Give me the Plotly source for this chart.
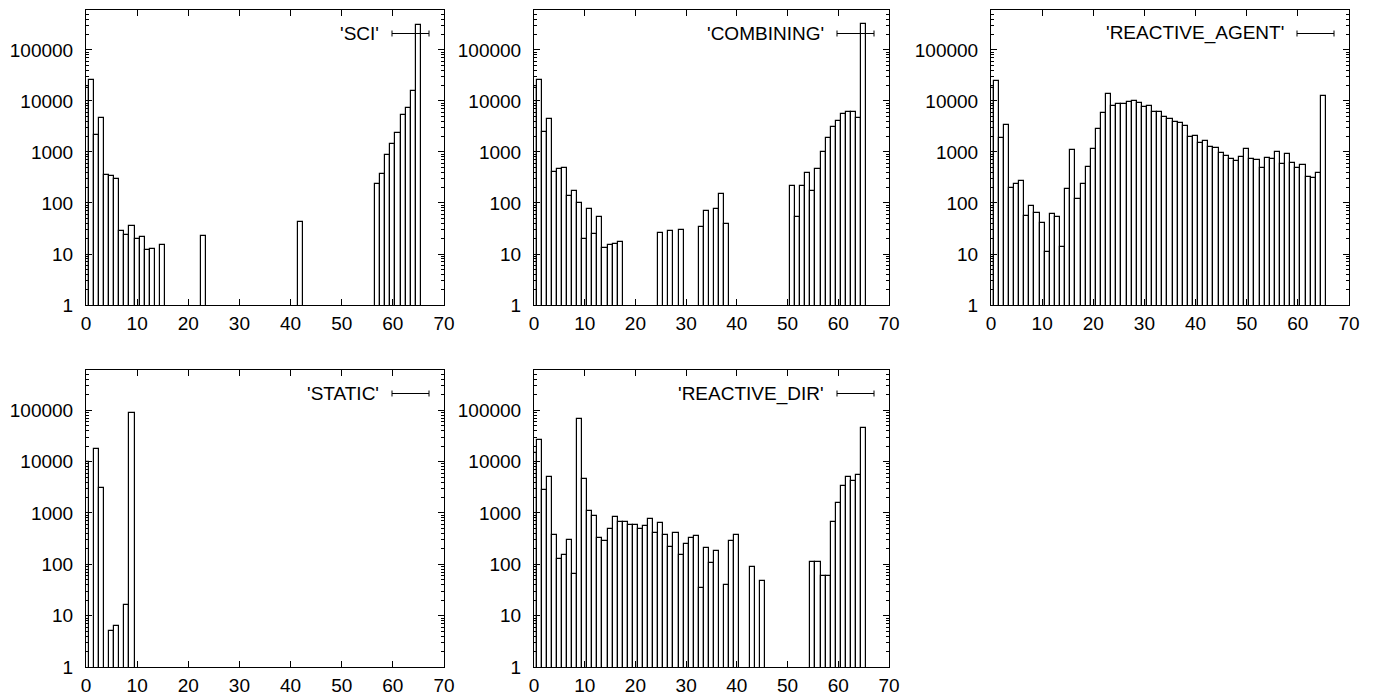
import plotly.graph_objects as go

# ---------------- data (bin index 0..65) ----------------
bins = list(range(66))

sci = [18000, 25700, 2200, 4570, 348, 335, 290, 28, 23.5, 35.5,
       19.5, 21.8, 11.8, 12.8, 0, 14.8, 0, 0, 0, 0,
       0, 0, 0, 23, 0, 0, 0, 0, 0, 0,
       0, 0, 0, 0, 0, 0, 0, 0, 0, 0,
       0, 0, 43, 0, 0, 0, 0, 0, 0, 0,
       0, 0, 0, 0, 0, 0, 0, 236, 365, 860,
       1440, 2330, 5300, 7200, 15700, 316000]

combining = [18000, 25700, 2440, 4400, 405, 457, 487, 138, 174, 102,
             20, 78, 24.5, 52, 13, 15, 16, 17, 0, 0,
             0, 0, 0, 0, 0, 26, 0, 28, 0, 30,
             0, 0, 0, 34, 71, 0, 75, 152, 39, 0,
             0, 0, 0, 0, 0, 0, 0, 0, 0, 0,
             0, 212, 53, 220, 395, 172, 465, 1000, 1880, 3100,
             4100, 5600, 6000, 6200, 4600, 320000]

reactive_agent = [18000, 24700, 1850, 3400, 200, 240, 270, 56, 89, 65,
                  40, 11, 60, 52, 14, 185, 1090, 120, 235, 515,
                  1130, 2820, 5900, 13900, 7900, 8900, 8900, 9400, 10100, 9100,
                  7600, 7900, 6200, 6200, 4900, 4500, 3870, 3640, 3230, 1990,
                  2040, 1480, 1650, 1250, 1200, 940, 850, 730, 665, 810,
                  1130, 720, 700, 480, 780, 730, 980, 580, 930, 620,
                  490, 560, 318, 315, 390, 12600]

static = [10000, 0, 17500, 3100, 0, 5, 6.2, 0, 16, 89000] + [0] * 56

reactive_dir = [15000, 25900, 2740, 5000, 370, 128, 150, 303, 64, 69000,
                4600, 1100, 890, 323, 287, 477, 840, 675, 675, 590,
                590, 477, 565, 770, 400, 625, 370, 222, 400, 150,
                246, 323, 360, 34, 207, 107, 185, 0, 39, 285,
                370, 0, 0, 88, 0, 47, 0, 0, 0, 0,
                0, 0, 0, 0, 0, 113, 113, 58, 58, 660,
                1570, 3300, 5100, 4270, 5450, 44500]

series_names = ["'SCI'", "'COMBINING'", "'REACTIVE_AGENT'", "'STATIC'", "'REACTIVE_DIR'"]
series_values = [sci, combining, reactive_agent, static, reactive_dir]

x_ticks = [0, 10, 20, 30, 40, 50, 60, 70]
x_ticklabels = ["0", "10", "20", "30", "40", "50", "60", "70"]
y_ticks = [1, 10, 100, 1000, 10000, 100000]
y_ticklabels = ["1", "10", "100", "1000", "10000", "100000"]
y_minor = [m * 10 ** d for d in range(6) for m in range(2, 10)]

# ---------------- layout geometry ----------------
OFF = 8                      # page body margin of the html file
W, H = 1374 - OFF, 696 - OFF
col_px = [(86, 444), (534, 889), (991, 1349)]   # screen pixels
row_px = [(10, 305), (370, 667)]
ml = col_px[0][0] - OFF
mr = W - (col_px[2][1] - OFF)
mt = row_px[0][0] - OFF
mb = H - (row_px[1][1] - OFF)
pw, ph = W - ml - mr, H - mt - mb

def xdom(a, b):
    return [(a - OFF - ml) / pw, (b - OFF - ml) / pw]

def ydom(top, bottom):
    return [(H - mb - (bottom - OFF)) / ph, (H - mb - (top - OFF)) / ph]

cells = [(0, 0), (0, 1), (0, 2), (1, 0), (1, 1)]

FONT = "Liberation Sans, Arial, Helvetica, sans-serif"
fig = go.Figure()
layout = dict(
    width=W, height=H,
    margin=dict(l=ml, r=mr, t=mt, b=mb, pad=0, autoexpand=False),
    paper_bgcolor="white", plot_bgcolor="white",
    showlegend=False, bargap=0,
    font=dict(family=FONT, size=19, color="black"),
)
annotations = []
shapes = []

for i, ((r, c), name, vals) in enumerate(zip(cells, series_names, series_values)):
    k = "" if i == 0 else str(i + 1)
    xa, ya = "x" + k, "y" + k
    fig.add_trace(go.Bar(
        x=bins, y=[v if v > 0 else None for v in vals], width=1,
        marker=dict(color="white", line=dict(color="black", width=1.2)),
        xaxis=xa, yaxis=ya, hoverinfo="x+y",
    ))
    cx0, cx1 = col_px[c]
    ry0, ry1 = row_px[r]
    wpx, hpx = cx1 - cx0, ry1 - ry0
    layout["xaxis" + k] = dict(
        domain=xdom(cx0, cx1), anchor=ya, range=[0, 70], automargin=False,
        tickmode="array", tickvals=x_ticks, ticktext=x_ticklabels,
        ticks="inside", ticklen=6, tickwidth=1, tickcolor="black",
        showline=True, linecolor="black", linewidth=1, mirror="ticks",
        showgrid=False, zeroline=False, ticklabelstandoff=1,
        tickfont=dict(size=19, family=FONT),
    )
    layout["yaxis" + k] = dict(
        domain=ydom(ry0, ry1), anchor=xa, type="log", range=[0, 5.784],
        automargin=False,
        tickmode="array", tickvals=y_ticks, ticktext=y_ticklabels,
        ticks="inside", ticklen=6, tickwidth=1, tickcolor="black",
        minor=dict(tickmode="array", tickvals=y_minor, ticks="inside",
                   ticklen=3, tickcolor="black", showgrid=False),
        showline=True, linecolor="black", linewidth=1, mirror="ticks",
        showgrid=False, zeroline=False, ticklabelstandoff=8,
        tickfont=dict(size=19, family=FONT),
    )
    # key: label + sample (line with end bars)
    ky = 1 - 23.5 / hpx
    annotations.append(dict(
        xref=xa + " domain", yref=ya + " domain", x=1 - 63 / wpx, y=ky,
        xanchor="right", yanchor="middle", text=name, showarrow=False,
        font=dict(size=19, family=FONT, color="black"),
    ))
    sx0, sx1 = 1 - 52 / wpx, 1 - 15 / wpx
    dy = 3 / hpx
    shapes.append(dict(type="line", xref=xa + " domain", yref=ya + " domain",
                       x0=sx0, x1=sx1, y0=ky, y1=ky, line=dict(color="black", width=1)))
    for sx in (sx0, sx1):
        shapes.append(dict(type="line", xref=xa + " domain", yref=ya + " domain",
                           x0=sx, x1=sx, y0=ky - dy, y1=ky + dy,
                           line=dict(color="black", width=1)))

layout["annotations"] = annotations
layout["shapes"] = shapes
fig.update_layout(**layout)
fig.write_html("out.html")
